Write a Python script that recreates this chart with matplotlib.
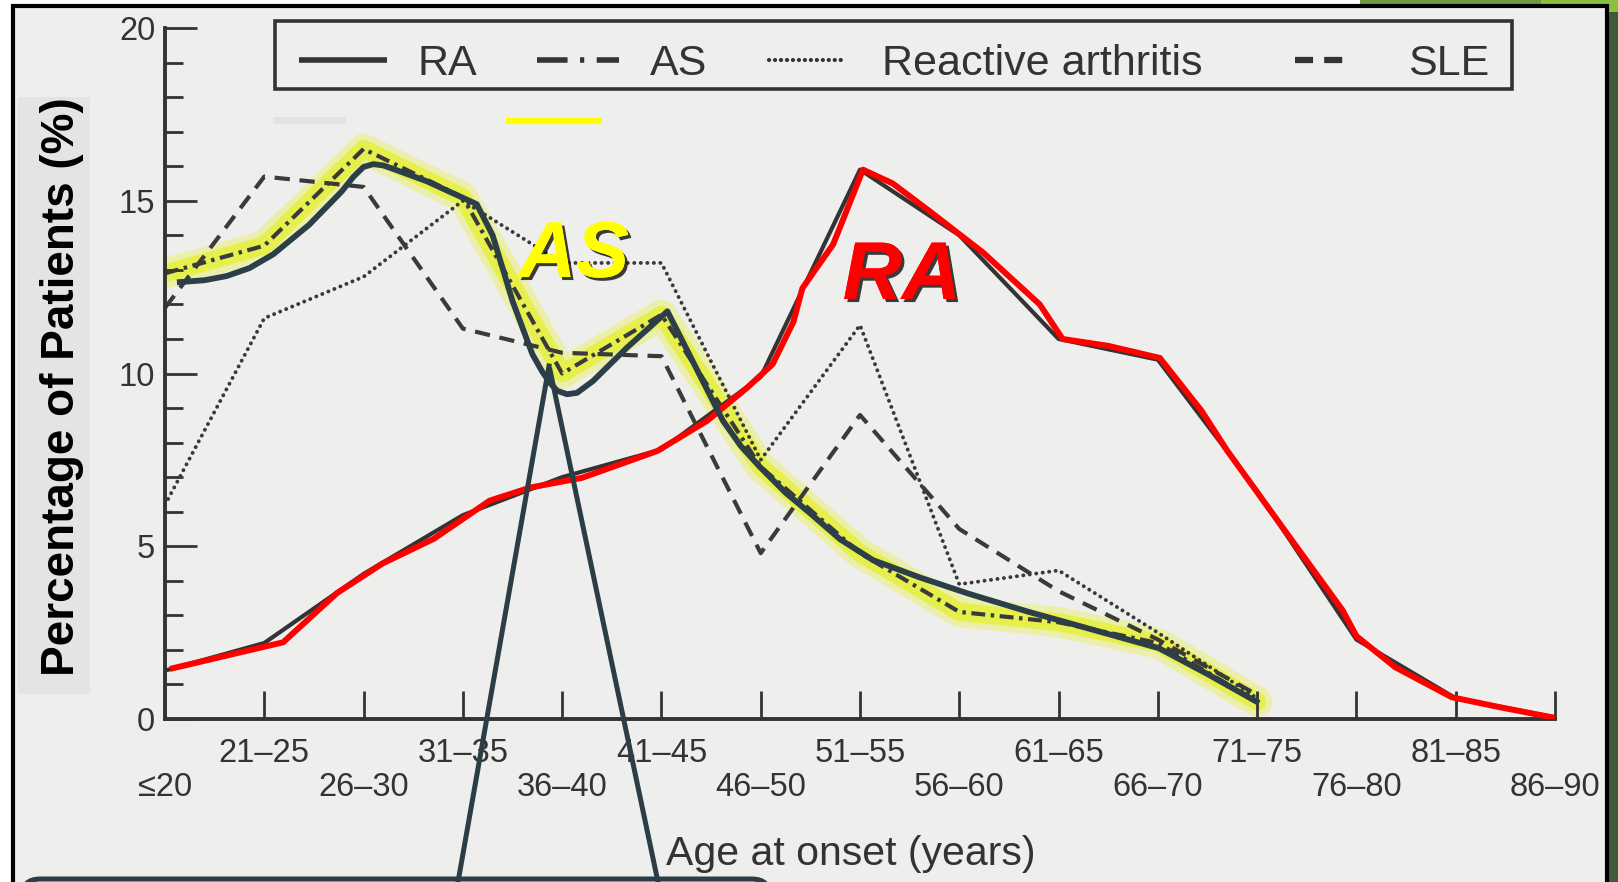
#----Modules----#
import matplotlib
matplotlib.use('Agg')
import matplotlib.pyplot as plt
import matplotlib.patheffects as pe
from matplotlib.patches import Rectangle, FancyBboxPatch

plt.rcParams['font.family'] = ['Liberation Sans', 'DejaVu Sans']
plt.rcParams['lines.scale_dashes'] = False

#----Data----#
age_groups = ['\u226420', '21\u201325', '26\u201330', '31\u201335', '36\u201340', '41\u201345', '46\u201350',
              '51\u201355', '56\u201360', '61\u201365', '66\u201370', '71\u201375', '76\u201380', '81\u201385', '86\u201390']

ra_pct = [1.4, 2.2, 4.2, 5.9, 7.0, 7.8, 9.9, 15.9, 14.0, 11.0, 10.4, 6.6, 2.3, 0.6, 0.05]
as_pct = [12.9, 13.7, 16.5, 15.1, 10.0, 11.7, 7.3, 4.8, 3.1, 2.8, 2.2, 0.5]
reactive_pct = [6.2, 11.6, 12.8, 15.0, 13.2, 13.2, 7.5, 11.4, 3.9, 4.3, 2.5, 0.6]
sle_pct = [11.9, 15.7, 15.4, 11.3, 10.6, 10.5, 4.8, 8.8, 5.5, 3.7, 2.3, 0.7]

# hand drawn red trace over RA (x = position in age groups)
red_x = [0.08, 1.19, 1.73, 2.19, 2.71, 3.27, 3.68, 4.2, 4.96, 5.46, 5.86, 6.12, 6.33, 6.42, 6.73,
         7.03, 7.33, 7.7, 8.24, 8.81, 9.04, 9.5, 10.02, 10.44, 10.7, 11.33, 11.86, 12.0, 12.39,
         12.96, 13.43, 14.0]
red_y = [1.47, 2.22, 3.64, 4.5, 5.22, 6.32, 6.7, 6.98, 7.76, 8.63, 9.58, 10.27, 11.5, 12.47, 13.74,
         15.9, 15.5, 14.7, 13.5, 12.0, 11.0, 10.8, 10.45, 8.92, 7.76, 5.25, 3.15, 2.4, 1.5,
         0.63, 0.35, 0.03]

# hand drawn dark trace over AS
navy_x = [0.12, 0.4, 0.62, 0.85, 1.09, 1.45, 1.78, 1.9, 2.0, 2.1, 2.2, 2.3, 2.64, 3.14,
          3.3, 3.5, 3.7, 3.8, 3.88, 3.95, 4.05, 4.15, 4.31, 4.65, 5.06,
          5.39, 5.62, 5.8, 5.99, 6.25, 6.5, 6.8, 7.13, 7.6, 8.09, 8.7, 9.25, 10.01, 10.5, 11.02]
navy_y = [12.64, 12.7, 12.82, 13.05, 13.45, 14.3, 15.27, 15.7, 15.98, 16.06, 16.02, 15.92, 15.56, 14.9,
          14.0, 12.1, 10.56, 10.05, 9.72, 9.5, 9.4, 9.44, 9.78, 10.74, 11.8,
          9.93, 8.63, 7.9, 7.3, 6.55, 5.95, 5.2, 4.6, 4.1, 3.63, 3.1, 2.66, 2.05, 1.3, 0.46]

W, H = 1618, 882
ink = '#333333'

fig = plt.figure(figsize=(W / 100, H / 100), dpi=100)
fig.patch.set_facecolor('white')

#----Background: frame, slide bits----#
bg = fig.add_axes([0, 0, 1, 1], zorder=0)
bg.set_xlim(0, W)
bg.set_ylim(H, 0)
bg.axis('off')
bg.add_patch(Rectangle((1360, 0), 181, 8, facecolor='#6a9a45', edgecolor='none'))
bg.add_patch(Rectangle((1541, 0), 77, 12, facecolor='#8cc03c', edgecolor='none'))
bg.add_patch(Rectangle((1541, 12), 77, H, facecolor='#3e5a38', edgecolor='none'))
bg.add_patch(Rectangle((13, 6), 1594, 900, facecolor='#eeefed', edgecolor='black', lw=3))
bg.add_patch(Rectangle((18, 97), 72, 597, facecolor='#e4e4e4', edgecolor='none'))
bg.add_patch(Rectangle((273, 117), 73, 7, facecolor='#e3e3e3', edgecolor='none'))

#----Chart----#
ax = fig.add_axes([165 / W, (H - 719) / H, 1390 / W, 691 / H], zorder=1)
ax.patch.set_alpha(0)
xs = list(range(len(age_groups)))
n = len(as_pct)

# yellow highlighter over the AS curve
ax.plot(xs[:n], as_pct, color='#e4f000', lw=22, alpha=0.28, solid_capstyle='round',
        solid_joinstyle='round', zorder=1)
ax.plot(xs[:n], as_pct, color='#e4f000', lw=13, alpha=0.55, solid_capstyle='round',
        solid_joinstyle='round', zorder=1)

ax.plot(xs, ra_pct, color='#333333', lw=3, zorder=2)
ax.plot(xs[:n], as_pct, color='#3a3a3a', lw=3, ls=(0, (10, 4, 2.5, 4)), zorder=2)
ax.plot(xs[:n], reactive_pct, color='#3a3a3a', lw=2.8, ls=(0, (0.1, 4.6)),
        dash_capstyle='round', zorder=2)
ax.plot(xs[:n], sle_pct, color='#3a3a3a', lw=3, ls=(0, (11, 7)), zorder=2)

ax.plot(red_x, red_y, color='#ff0000', lw=4.3, solid_joinstyle='round', zorder=3)
ax.plot(navy_x, navy_y, color='#2c3e47', lw=4.2, solid_joinstyle='round', solid_capstyle='butt', zorder=4)

ax.set_xlim(0, 14)
ax.set_ylim(0, 20)
for side in ['top', 'right']:
    ax.spines[side].set_visible(False)
for side in ['left', 'bottom']:
    ax.spines[side].set_linewidth(2.8)
    ax.spines[side].set_color('#333333')

ax.set_xticks(xs[0::2], age_groups[0::2])
ax.set_xticks(xs[1::2], age_groups[1::2], minor=True)
ax.set_yticks([0, 5, 10, 15, 20], ['0', '5', '10', '15', '20'])
ax.set_yticks(range(21), minor=True)
ax.tick_params(axis='x', which='both', direction='in', length=20, width=2, color='#333333',
               labelsize=23.5, labelcolor=ink)
ax.tick_params(axis='x', which='major', pad=38)
ax.tick_params(axis='x', which='minor', pad=14)
ax.tick_params(axis='y', which='both', direction='in', width=2, color='#333333',
               labelsize=23.5, labelcolor=ink, pad=7)
ax.tick_params(axis='y', which='major', length=23)
ax.tick_params(axis='y', which='minor', length=13)

ax.set_xlabel('Age at onset (years)', fontsize=29.5, color=ink)
ax.xaxis.set_label_coords((851 - 165) / 1390, (719 - 854) / 691)
ax.xaxis.label.set_va('center')

#----Overlay: legend, labels, callout----#
ov = fig.add_axes([0, 0, 1, 1], zorder=2)
ov.set_xlim(0, W)
ov.set_ylim(H, 0)
ov.axis('off')

ov.add_patch(Rectangle((275, 21), 1237, 68, facecolor='none', edgecolor='#333333', lw=2.6))
ov.plot([299, 387], [60, 60], color='#333333', lw=4, solid_capstyle='butt')
ov.plot([537, 619], [60, 60], color='#333333', lw=4, ls=(0, (22, 9, 3, 9)))
ov.plot([769, 846], [60, 60], color='#333333', lw=3, ls=(0, (0.1, 4.2)), dash_capstyle='round')
ov.plot([1295, 1352], [60, 60], color='#333333', lw=4.5, ls=(0, (13, 8)))
for label, x0 in [('RA', 418), ('AS', 650), ('Reactive arthritis', 882), ('SLE', 1408)]:
    ov.text(x0, 75, label, fontsize=31, color=ink, ha='left', va='baseline')

ov.text(62, 387, 'Percentage of Patients (%)', rotation=90, fontsize=33, fontweight='bold',
        color='black', ha='center', va='center')

ov.plot([506, 602], [121, 121], color='#ffff00', lw=4.5, solid_capstyle='butt')
shadow = [pe.withSimplePatchShadow(offset=(2.2, -2.2), shadow_rgbFace='#1a1a1a', alpha=0.85), pe.Normal()]
ov.text(574, 277, 'AS', fontsize=57, fontweight='bold', fontstyle='italic', color='#ffff00',
        ha='center', va='baseline', path_effects=shadow)
ov.text(902, 299, 'RA', fontsize=59, fontweight='bold', fontstyle='italic', color='#ff0000',
        ha='center', va='baseline', path_effects=shadow)

callout = '#2b3d45'
ov.add_patch(FancyBboxPatch((22, 879), 748, 80, boxstyle='round,pad=0,rounding_size=18',
                            facecolor='#f2f2f2', edgecolor=callout, lw=3.6, clip_on=False))
ov.plot([549, 458], [366, 882], color=callout, lw=3.6, clip_on=False)
ov.plot([550, 658], [370, 882], color=callout, lw=3.6, clip_on=False)

fig.savefig('out.png', dpi=100, facecolor=fig.get_facecolor())
